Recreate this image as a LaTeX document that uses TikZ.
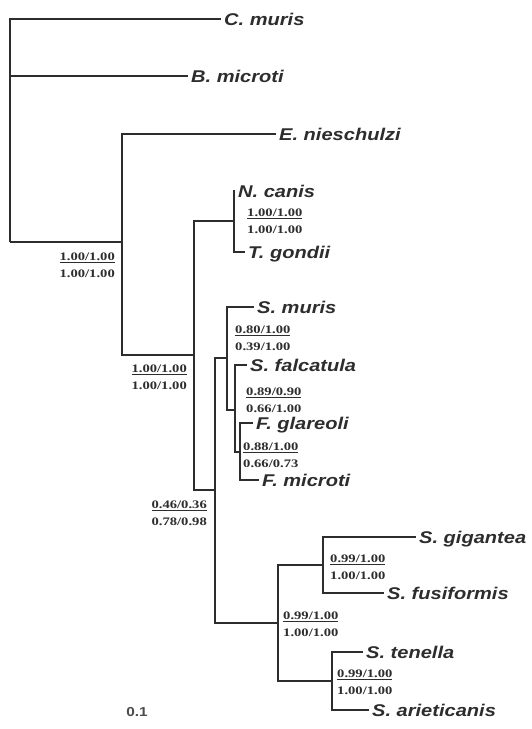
\documentclass[tikz,border=0pt]{standalone}
\usepackage{fontspec}
\usepackage{tikz}
\newfontfamily\taxfont[FakeStretch=1.18]{Liberation Sans}
\newfontfamily\suppfont[FakeStretch=1.27]{Liberation Serif}
\definecolor{treeink}{RGB}{45,45,45}
\newcommand{\pp}[2]{\underline{#1}\\#2}

\tikzset{
  branch/.style={draw=treeink,line width=1.8pt},
  taxon/.style={anchor=west,inner xsep=3pt,inner ysep=0pt,text height=12.2pt,
    text depth=0pt,text=treeink,font=\taxfont\bfseries\itshape\fontsize{17}{20}\selectfont},
  supp/.style={inner sep=0pt,align=center,text=treeink,
    font=\suppfont\bfseries\fontsize{11.5}{17}\selectfont}
}

\begin{document}
\begin{tikzpicture}[x=1pt,y=-1pt]
\useasboundingbox (0,0) rectangle (532,729);
\fill[white] (0,0) rectangle (532,729);
% internal nodes
\coordinate (n0) at (10,242);
\coordinate (n1) at (122,242);
\coordinate (n2) at (194,355);
\coordinate (n3) at (234,221);
\coordinate (n4) at (215,490);
\coordinate (n5) at (227,358);
\coordinate (n6) at (235,410);
\coordinate (n7) at (240,452);
\coordinate (n8) at (278,623);
\coordinate (n9) at (323,565);
\coordinate (n10) at (332,681);
% taxa
\node[taxon] (cmuris) at (221,19) {C. muris};
\node[taxon] (bmicroti) at (188,76) {B. microti};
\node[taxon] (enieschulzi) at (276,134) {E. nieschulzi};
\node[taxon] (ncanis) at (235,191) {N. canis};
\node[taxon] (tgondii) at (245,252) {T. gondii};
\node[taxon] (smuris) at (254,307) {S. muris};
\node[taxon] (sfalcatula) at (247,365) {S. falcatula};
\node[taxon] (fglareoli) at (253,423) {F. glareoli};
\node[taxon] (fmicroti) at (259,480) {F. microti};
\node[taxon] (sgigantea) at (416,537) {S. gigantea};
\node[taxon] (sfusiformis) at (384,593) {S. fusiformis};
\node[taxon] (stenella) at (363,652) {S. tenella};
\node[taxon] (sarieticanis) at (369,710) {S. arieticanis};
% branches
\draw[branch] (n0) |- (cmuris);
\draw[branch] (n0) |- (bmicroti);
\draw[branch] (n0) -- (n1);
\draw[branch] (n1) |- (enieschulzi);
\draw[branch] (n1) |- (n2);
\draw[branch] (n2) |- (n3);
\draw[branch] (n2) |- (n4);
\draw[branch] (n3) |- (ncanis);
\draw[branch] (n3) |- (tgondii);
\draw[branch] (n4) |- (n5);
\draw[branch] (n4) |- (n8);
\draw[branch] (n5) |- (smuris);
\draw[branch] (n5) |- (n6);
\draw[branch] (n6) |- (sfalcatula);
\draw[branch] (n6) |- (n7);
\draw[branch] (n7) |- (fglareoli);
\draw[branch] (n7) |- (fmicroti);
\draw[branch] (n8) |- (n9);
\draw[branch] (n8) |- (n10);
\draw[branch] (n9) |- (sgigantea);
\draw[branch] (n9) |- (sfusiformis);
\draw[branch] (n10) |- (stenella);
\draw[branch] (n10) |- (sarieticanis);
% support values
\node[supp,anchor=east] (p1) at (115,265) {\pp{1.00/1.00}{1.00/1.00}};
\node[supp,anchor=east] (p2) at (187,377) {\pp{1.00/1.00}{1.00/1.00}};
\node[supp,anchor=west] (p3) at (247,221) {\pp{1.00/1.00}{1.00/1.00}};
\node[supp,anchor=east] (p4) at (207,513) {\pp{0.46/0.36}{0.78/0.98}};
\node[supp,anchor=west] (p5) at (235,338) {\pp{0.80/1.00}{0.39/1.00}};
\node[supp,anchor=west] (p6) at (246,400) {\pp{0.89/0.90}{0.66/1.00}};
\node[supp,anchor=west] (p7) at (243,455) {\pp{0.88/1.00}{0.66/0.73}};
\node[supp,anchor=west] (p8) at (283,624) {\pp{0.99/1.00}{1.00/1.00}};
\node[supp,anchor=west] (p9) at (330,567) {\pp{0.99/1.00}{1.00/1.00}};
\node[supp,anchor=west] (p10) at (337,682) {\pp{0.99/1.00}{1.00/1.00}};
% scale
\node[text=treeink!85,font=\taxfont\bfseries\fontsize{13}{15}\selectfont] (scale) at (137,712) {0.1};
\end{tikzpicture}
\end{document}
